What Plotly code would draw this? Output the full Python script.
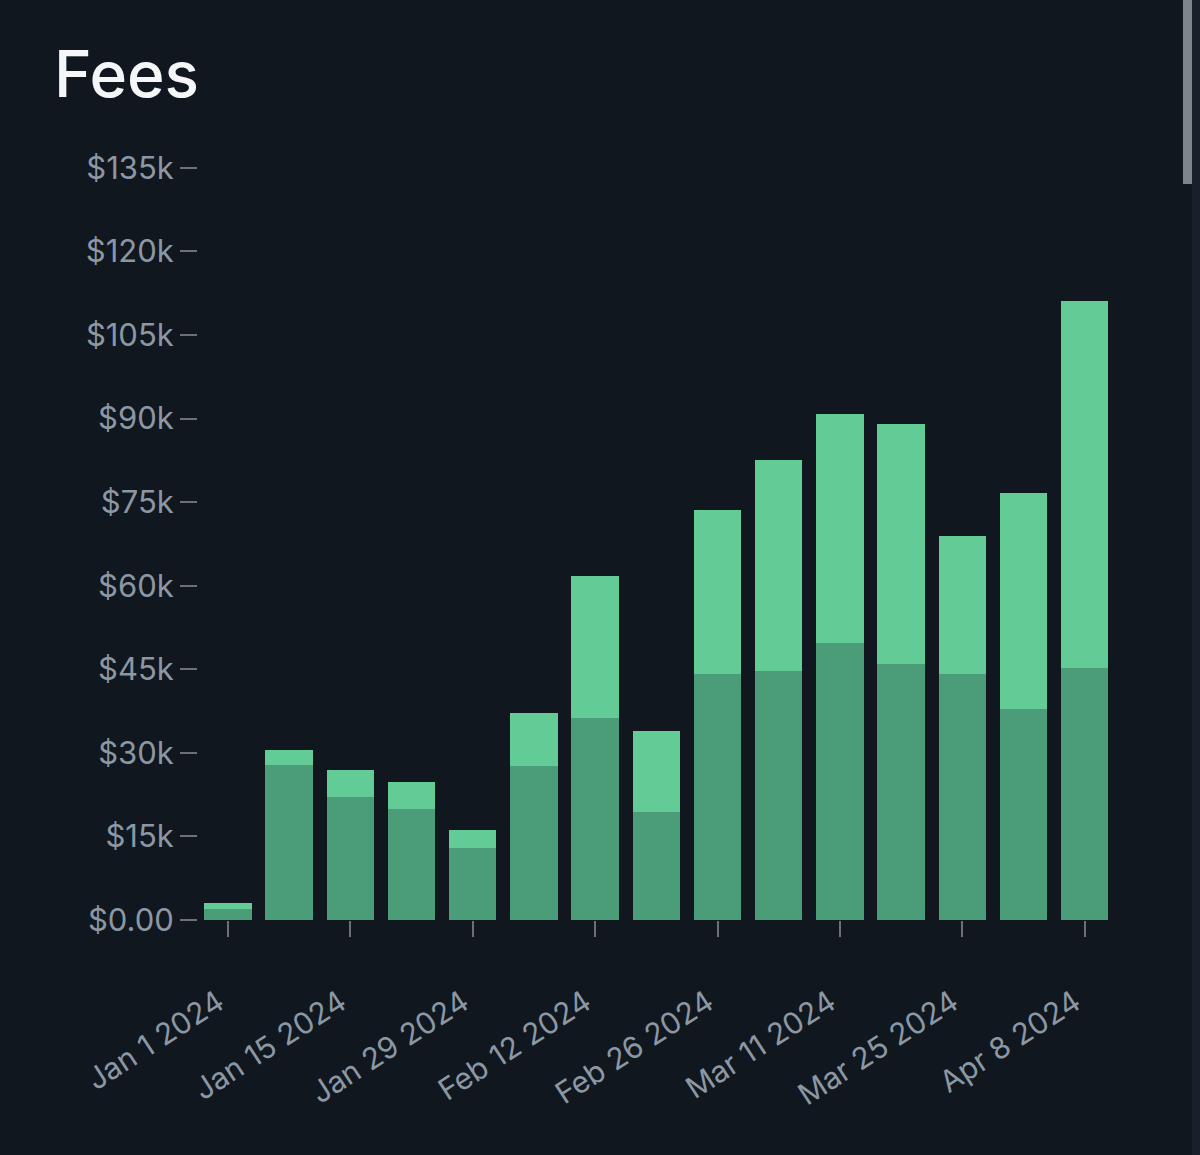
import plotly.graph_objects as go

# Weekly dates
weeks = ["2024-01-01", "2024-01-08", "2024-01-15", "2024-01-22", "2024-01-29",
         "2024-02-05", "2024-02-12", "2024-02-19", "2024-02-26", "2024-03-04",
         "2024-03-11", "2024-03-18", "2024-03-25", "2024-04-01", "2024-04-08"]

# Lower (darker) segment, USD
fees_base = [2000, 27800, 22100, 19900, 13000, 27600, 36300, 19400, 44200, 44700,
             49700, 46000, 44200, 37900, 45200]
# Upper (lighter) segment, USD
fees_top = [1100, 2800, 4800, 4900, 3100, 9600, 25500, 14500, 29400, 37900,
            41100, 43000, 24700, 38800, 65900]

y_tick_vals = [0, 15000, 30000, 45000, 60000, 75000, 90000, 105000, 120000, 135000]
y_tick_text = ["$0.00", "$15k", "$30k", "$45k", "$60k", "$75k", "$90k", "$105k", "$120k", "$135k"]

x_tick_vals = ["2024-01-01", "2024-01-15", "2024-01-29", "2024-02-12",
               "2024-02-26", "2024-03-11", "2024-03-25", "2024-04-08"]
x_tick_text = ["Jan 1 2024", "Jan 15 2024", "Jan 29 2024", "Feb 12 2024",
               "Feb 26 2024", "Mar 11 2024", "Mar 25 2024", "Apr 8 2024"]

BG = "#10171f"
DARK = "#4b9d7a"
LIGHT = "#62cb96"
TEXT = "#8c97a4"
TICK = "#6b7079"
FONT = "Inter, 'Noto Sans', sans-serif"

bar_width_ms = 5.43 * 86400000

fig = go.Figure()
fig.add_trace(go.Bar(x=weeks, y=fees_base, marker=dict(color=DARK, line=dict(width=0)),
                     width=bar_width_ms, hoverinfo="skip"))
fig.add_trace(go.Bar(x=weeks, y=fees_top, marker=dict(color=LIGHT, line=dict(width=0)),
                     width=bar_width_ms, hoverinfo="skip"))

fig.update_layout(
    width=1200, height=1155,
    paper_bgcolor=BG, plot_bgcolor=BG,
    barmode="stack",
    showlegend=False,
    margin=dict(l=198, r=90, t=140, b=235),
    font=dict(family=FONT, color=TEXT, size=30),
    xaxis=dict(
        type="date",
        range=["2023-12-28 13:40", "2024-04-10 21:30"],
        tickmode="array", tickvals=x_tick_vals, ticktext=x_tick_text,
        tickangle=-33,
        ticks="outside", ticklen=16, tickwidth=2, tickcolor=TICK,
        showgrid=False, zeroline=False, showline=False,
        tickfont=dict(size=30, color=TEXT, family=FONT),
        ticklabelstandoff=36,
        ticklabelshift=-10,
    ),
    yaxis=dict(
        range=[0, 140000],
        tickmode="array", tickvals=y_tick_vals, ticktext=y_tick_text,
        ticks="outside", ticklen=17, tickwidth=2, tickcolor=TICK,
        showgrid=False, zeroline=False, showline=False,
        tickfont=dict(size=31, color=TEXT, family=FONT),
    ),
    annotations=[dict(
        text="Fees", xref="paper", yref="paper",
        x=(52 - 198) / 912, y=(920 - 73) / 780,
        xanchor="left", yanchor="middle", showarrow=False,
        font=dict(size=64, color="#f4f6f8", family=FONT, weight=500),
    )],
    shapes=[
        dict(type="rect", xref="paper", yref="paper",
             x0=(1192 - 198) / 912, x1=(1200 - 198) / 912,
             y0=(920 - 1155) / 780, y1=(920 - 0) / 780,
             fillcolor="#1a202b", line=dict(width=0), layer="below"),
        dict(type="rect", xref="paper", yref="paper",
             x0=(1183 - 198) / 912, x1=(1192 - 198) / 912,
             y0=(920 - 184) / 780, y1=(920 - 0) / 780,
             fillcolor="#7d848c", line=dict(width=0), layer="above"),
    ],
)

fig.write_html(
    "out.html",
    config={"displayModeBar": False},
    post_script="document.body.style.margin='0';document.body.style.overflow='hidden';",
)
